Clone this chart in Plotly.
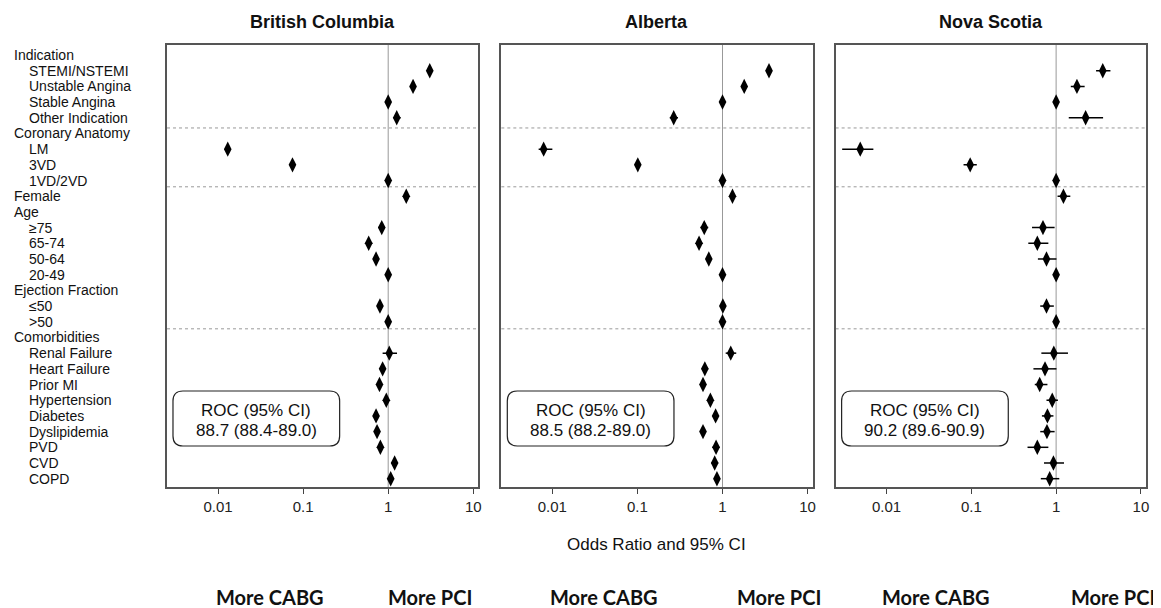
import plotly.graph_objects as go

# ---------------- data ----------------
row_labels = ["Indication", "STEMI/NSTEMI", "Unstable Angina", "Stable Angina", "Other Indication",
              "Coronary Anatomy", "LM", "3VD", "1VD/2VD", "Female", "Age", "≥75", "65-74", "50-64",
              "20-49", "Ejection Fraction", "≤50", ">50", "Comorbidities", "Renal Failure",
              "Heart Failure", "Prior MI", "Hypertension", "Diabetes", "Dyslipidemia", "PVD", "CVD", "COPD"]
row_indent = [0, 1, 1, 1, 1, 0, 1, 1, 1, 0, 0, 1, 1, 1, 1, 0, 1, 1, 0, 1, 1, 1, 1, 1, 1, 1, 1, 1]

panel_titles = ["British Columbia", "Alberta", "Nova Scotia"]

N = None
bc_or = [N, 3.08, 1.96, 1.0, 1.26, N, 0.013, 0.075, 1.0, 1.63, N, 0.84, 0.59, 0.72, 1.0, N, 0.80, 1.0, N,
         1.03, 0.86, 0.79, 0.95, 0.72, 0.74, 0.81, 1.19, 1.07]
bc_lo = [N, 2.90, 1.85, 1.0, 1.15, N, 0.012, 0.071, 1.0, 1.56, N, 0.77, 0.54, 0.67, 1.0, N, 0.76, 1.0, N,
         0.86, 0.80, 0.75, 0.90, 0.68, 0.70, 0.75, 1.09, 0.99]
bc_hi = [N, 3.27, 2.08, 1.0, 1.40, N, 0.014, 0.079, 1.0, 1.70, N, 0.92, 0.65, 0.78, 1.0, N, 0.85, 1.0, N,
         1.27, 0.93, 0.83, 1.00, 0.76, 0.78, 0.88, 1.30, 1.15]

ab_or = [N, 3.52, 1.80, 1.0, 0.267, N, 0.0079, 0.101, 1.0, 1.31, N, 0.61, 0.53, 0.69, 1.0, N, 1.01, 1.0, N,
         1.25, 0.62, 0.59, 0.72, 0.83, 0.59, 0.84, 0.81, 0.86]
ab_lo = [N, 3.30, 1.68, 1.0, 0.240, N, 0.0069, 0.095, 1.0, 1.24, N, 0.55, 0.49, 0.64, 1.0, N, 0.96, 1.0, N,
         1.09, 0.57, 0.56, 0.68, 0.78, 0.56, 0.76, 0.74, 0.80]
ab_hi = [N, 3.75, 1.93, 1.0, 0.300, N, 0.0100, 0.107, 1.0, 1.38, N, 0.68, 0.58, 0.74, 1.0, N, 1.06, 1.0, N,
         1.45, 0.68, 0.63, 0.77, 0.88, 0.63, 0.92, 0.89, 0.92]

ns_or = [N, 3.55, 1.76, 1.0, 2.23, N, 0.0049, 0.097, 1.0, 1.22, N, 0.70, 0.60, 0.77, 1.0, N, 0.77, 1.0, N,
         0.94, 0.74, 0.64, 0.90, 0.79, 0.78, 0.60, 0.93, 0.84]
ns_lo = [N, 2.96, 1.49, 1.0, 1.41, N, 0.0030, 0.081, 1.0, 1.04, N, 0.52, 0.47, 0.61, 1.0, N, 0.65, 1.0, N,
         0.67, 0.54, 0.56, 0.77, 0.68, 0.65, 0.46, 0.72, 0.66]
ns_hi = [N, 4.37, 2.17, 1.0, 3.58, N, 0.0070, 0.116, 1.0, 1.47, N, 0.96, 0.81, 1.01, 1.0, N, 0.94, 1.0, N,
         1.38, 1.01, 0.79, 1.05, 0.93, 0.96, 0.81, 1.24, 1.09]

roc_title = "ROC (95% CI)"
roc_values = ["88.7 (88.4-89.0)", "88.5 (88.2-89.0)", "90.2 (89.6-90.9)"]

separator_rows = [4.65, 8.4, 17.45]

x_tickvals = [0.01, 0.1, 1, 10]
x_ticktext = ["0.01", "0.1", "1", "10"]

direction_labels = ["More CABG", "More PCI"]
axis_title = "Odds Ratio and 95% CI"

panels = [(bc_or, bc_lo, bc_hi), (ab_or, ab_lo, ab_hi), (ns_or, ns_lo, ns_hi)]

# ---------------- layout geometry (page pixels of reference) ----------------
OFF = 8                      # default page body margin
W, H = 1161 - OFF, 608 - OFF
P_LEFT, P_RIGHT, P_TOP, P_BOT = 167, 1148, 45, 487   # page pixel extents of plot area
L = P_LEFT - OFF
T = P_TOP - OFF
plot_w = P_RIGHT - P_LEFT
plot_h = P_BOT - P_TOP
R = W - L - plot_w
B = H - T - plot_h
panel_px = [(167, 479), (502, 814), (837, 1148)]
domains = [((a - P_LEFT) / plot_w, (b - P_LEFT) / plot_w) for a, b in panel_px]


def px2paper_x(px):
    return (px - P_LEFT) / plot_w


def px2paper_y(py):
    return 1 - (py - P_TOP) / plot_h


FONT = "Liberation Sans, Arial, sans-serif"

fig = go.Figure()
shapes = []
annotations = []

yrange = [27.53, -0.637]

for i, (orv, lo, hi) in enumerate(panels):
    xa = "x" if i == 0 else f"x{i+1}"
    ya = "y" if i == 0 else f"y{i+1}"
    rows = [r for r in range(len(orv)) if orv[r] is not None]
    xs = [orv[r] for r in rows]
    ep = [hi[r] - orv[r] for r in rows]
    em = [orv[r] - lo[r] for r in rows]
    fig.add_trace(go.Scatter(
        x=xs, y=rows, mode="markers",
        marker=dict(symbol="diamond-tall", size=11, color="black"),
        error_x=dict(type="data", array=ep, arrayminus=em, symmetric=False,
                     color="black", thickness=1.5, width=0),
        xaxis=xa, yaxis=ya, showlegend=False, hoverinfo="skip"))

    axkey = "xaxis" if i == 0 else f"xaxis{i+1}"
    aykey = "yaxis" if i == 0 else f"yaxis{i+1}"
    fig.layout[axkey] = dict(
        type="log", range=[-2.6, 1.06], domain=list(domains[i]), anchor=ya,
        tickvals=x_tickvals, ticktext=x_ticktext, ticks="outside", ticklen=5,
        tickcolor="#444", showgrid=False, zeroline=False, showline=True, mirror=True,
        linecolor="#555", linewidth=1.5, tickfont=dict(family=FONT, size=15, color="#222"))
    fig.layout[aykey] = dict(
        range=yrange, domain=[0, 1], anchor=xa, showticklabels=False, ticks="",
        showgrid=False, zeroline=False, showline=True, mirror=True,
        linecolor="#555", linewidth=1.5)

    # reference line at OR = 1
    shapes.append(dict(type="line", xref=xa, yref=f"{ya} domain", x0=1, x1=1, y0=0, y1=1,
                       line=dict(color="#999", width=1), layer="below"))
    # dotted separators
    for s in separator_rows:
        shapes.append(dict(type="line", xref=f"{xa} domain", yref=ya, x0=0, x1=1, y0=s, y1=s,
                           line=dict(color="#999", width=1, dash="dot"), layer="below"))

    # panel title
    cx = (domains[i][0] + domains[i][1]) / 2
    annotations.append(dict(text=f"<b>{panel_titles[i]}</b>", xref="paper", yref="paper",
                            x=cx, y=px2paper_y(22), xanchor="center", yanchor="middle",
                            showarrow=False, font=dict(family=FONT, size=18, color="#111")))

    # ROC box (rounded)
    bx0, bx1 = panel_px[i][0] + 6, panel_px[i][0] + 173
    by0, by1 = 391, 446
    rpx = 10
    x0p, x1p = px2paper_x(bx0), px2paper_x(bx1)
    y0p, y1p = px2paper_y(by0), px2paper_y(by1)
    rx, ry = rpx / plot_w, rpx / plot_h
    path = (f"M {x0p+rx} {y0p} L {x1p-rx} {y0p} Q {x1p} {y0p} {x1p} {y0p-ry} "
            f"L {x1p} {y1p+ry} Q {x1p} {y1p} {x1p-rx} {y1p} "
            f"L {x0p+rx} {y1p} Q {x0p} {y1p} {x0p} {y1p+ry} "
            f"L {x0p} {y0p-ry} Q {x0p} {y0p} {x0p+rx} {y0p} Z")
    shapes.append(dict(type="path", xref="paper", yref="paper", path=path,
                       line=dict(color="#222", width=1.2), fillcolor="white"))
    bcx = px2paper_x((bx0 + bx1) / 2)
    annotations.append(dict(text=roc_title, xref="paper", yref="paper", x=bcx, y=px2paper_y(410),
                            xanchor="center", yanchor="middle", showarrow=False,
                            font=dict(family=FONT, size=17, color="#111")))
    annotations.append(dict(text=roc_values[i], xref="paper", yref="paper", x=bcx, y=px2paper_y(430),
                            xanchor="center", yanchor="middle", showarrow=False,
                            font=dict(family=FONT, size=17, color="#111")))

# left row labels
for r, (lab, ind) in enumerate(zip(row_labels, row_indent)):
    xpx = 27 if ind else 12
    annotations.append(dict(text=lab, xref="paper", yref="y", x=px2paper_x(xpx), y=r,
                            xanchor="left", yanchor="middle", showarrow=False,
                            font=dict(family=FONT, size=14, color="#111")))

# axis title
annotations.append(dict(text=axis_title, xref="paper", yref="paper", x=(domains[1][0] + domains[1][1]) / 2,
                        y=px2paper_y(544), xanchor="center", yanchor="middle", showarrow=False,
                        font=dict(family=FONT, size=17, color="#111")))

# direction labels
dir_centers = [(270, 431), (605, 780), (938, 1115)]
for c1, c2 in dir_centers:
    for txt, cpx in zip(direction_labels, (c1, c2)):
        annotations.append(dict(text=f"<b>{txt}</b>", xref="paper", yref="paper", x=px2paper_x(cpx),
                                y=px2paper_y(597), xanchor="center", yanchor="middle", showarrow=False,
                                font=dict(family="Lato, Open Sans, sans-serif", size=20, color="#111")))

fig.update_layout(width=W, height=H, margin=dict(l=L, r=R, t=T, b=B),
                  paper_bgcolor="white", plot_bgcolor="white",
                  shapes=shapes, annotations=annotations, showlegend=False)

fig.write_html("out.html")
